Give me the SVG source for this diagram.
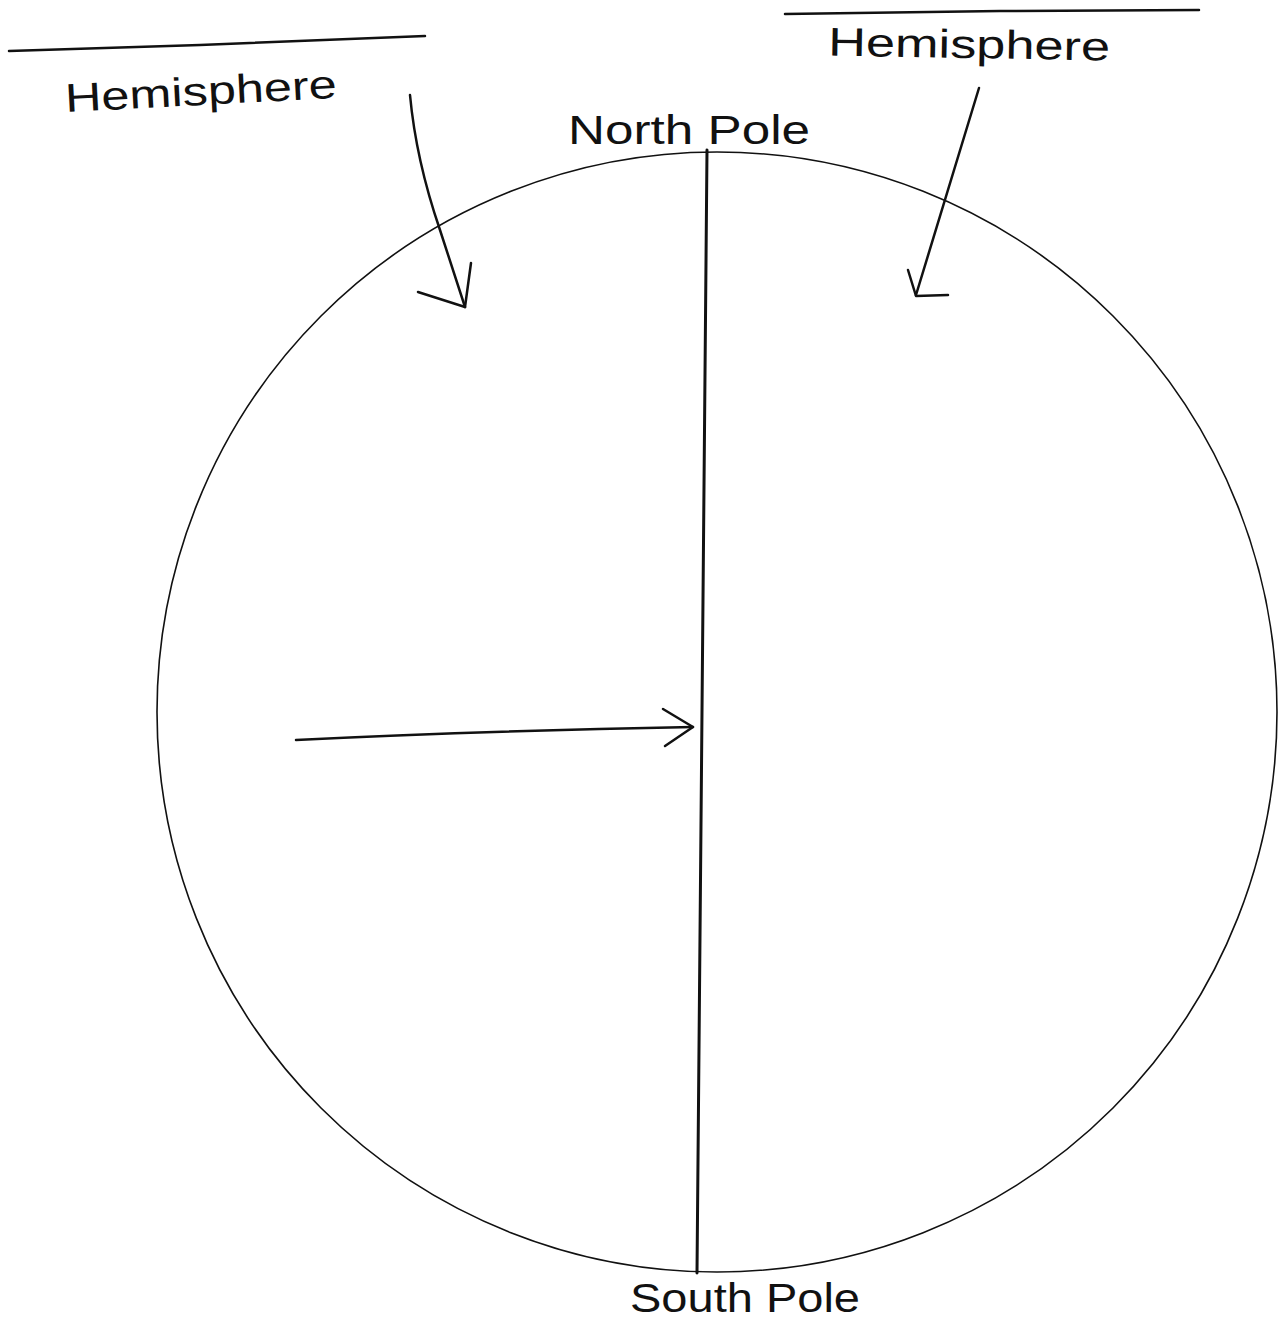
<svg xmlns="http://www.w3.org/2000/svg" width="1279" height="1325" viewBox="0 0 1279 1325">
<style>
.ink{fill:none;stroke:#111;stroke-linecap:round;stroke-linejoin:round}
.lbl{font-family:"Liberation Sans","DejaVu Sans",sans-serif;fill:#111;font-size:40px}
</style>
<rect width="1279" height="1325" fill="#fff"/>
<g id="globe">
<ellipse class="ink" cx="717" cy="712" rx="560" ry="560" stroke-width="1.6"/>
</g>
<g id="axis">
<path class="ink" d="M707 150 L697 1273" stroke-width="3"/>
</g>
<g id="title-left">
<path class="ink" d="M9 51 L200 45 L425 36" stroke-width="2.5"/>
<text class="lbl" x="65" y="105" textLength="272" lengthAdjust="spacingAndGlyphs" transform="rotate(-3 200 95)">Hemisphere</text>
</g>
<g id="title-right">
<path class="ink" d="M785 14 L1000 11 L1199 10" stroke-width="2.5"/>
<text class="lbl" x="828" y="58" textLength="282" lengthAdjust="spacingAndGlyphs" transform="rotate(1 970 50)">Hemisphere</text>
</g>
<g id="north-pole">
<text class="lbl" x="568" y="144" textLength="242" lengthAdjust="spacingAndGlyphs" font-size="38">North Pole</text>
</g>
<g id="south-pole">
<text class="lbl" x="630" y="1312" textLength="230" lengthAdjust="spacingAndGlyphs" font-size="38">South Pole</text>
</g>
<g id="connectors">
<path class="ink" d="M410 95 Q416 160 440 230 L465 307" stroke-width="2.5"/>
<path class="ink" d="M418 292 L465 307 L471 263" stroke-width="2.5"/>
<path class="ink" d="M979 88 L916 295" stroke-width="2.5"/>
<path class="ink" d="M908 270 L916 296 L948 295" stroke-width="2.5"/>
<path class="ink" d="M296 740 Q480 731 693 727" stroke-width="2.5"/>
<path class="ink" d="M663 709 L693 727 L665 746" stroke-width="2.5"/>
</g>
</svg>
